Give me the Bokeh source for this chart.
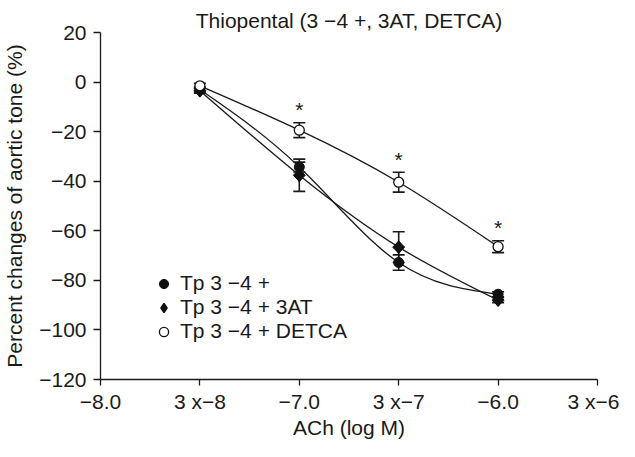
import numpy as np
from bokeh.plotting import figure
from bokeh.models import (Range1d, FixedTicker, ColumnDataSource, Whisker, TeeHead,
                          Legend, LegendItem)
from bokeh.core.properties import value
from bokeh.embed import file_html
from bokeh.resources import INLINE

# ---------------- data ----------------
x_ticks = [0, 1, 2, 3, 4, 5]
x_tick_labels = ["\u22128.0", "3 x\u22128", "\u22127.0", "3 x\u22127", "\u22126.0", "3 x\u22126"]
y_ticks = [20, 0, -20, -40, -60, -80, -100, -120]

dose_pos = [1, 2, 3, 4]
tp_mean = [-3.0, -34.3, -72.8, -85.6]
tp_err = [1.0, 2.0, 3.1, 1.0]
at_mean = [-3.5, -37.6, -66.6, -88.0]
at_err = [1.0, 6.5, 6.2, 1.0]
de_mean = [-1.5, -19.4, -40.4, -66.4]
de_err = [1.0, 3.0, 4.0, 2.4]
de_sig = [False, True, True, True]

series_names = ["Tp 3 \u22124 +", "Tp 3 \u22124 + 3AT", "Tp 3 \u22124 + DETCA"]
title_text = "Thiopental (3 \u22124 +, 3AT, DETCA)"
x_label = "ACh (log M)"
y_label = "Percent changes of aortic tone (%)"

FONT = "Liberation Sans"
FS = "21px"
INK = "#1a1a1a"


def spline_bezier(xs, ys):
    x = np.asarray(xs, float)
    y = np.asarray(ys, float)
    n = len(x)
    h = np.diff(x)
    A = np.zeros((n, n))
    b = np.zeros(n)
    A[0, 0] = 1
    A[-1, -1] = 1
    for i in range(1, n - 1):
        A[i, i - 1] = h[i - 1]
        A[i, i] = 2 * (h[i - 1] + h[i])
        A[i, i + 1] = h[i]
        b[i] = 6 * ((y[i + 1] - y[i]) / h[i] - (y[i] - y[i - 1]) / h[i - 1])
    M = np.linalg.solve(A, b)
    s = np.diff(y) / h
    d0 = s - h * (2 * M[:-1] + M[1:]) / 6
    d1 = s + h * (M[:-1] + 2 * M[1:]) / 6
    return dict(x0=x[:-1], y0=y[:-1], x1=x[1:], y1=y[1:],
                cx0=x[:-1] + h / 3, cy0=y[:-1] + d0 * h / 3,
                cx1=x[1:] - h / 3, cy1=y[1:] - d1 * h / 3)


p = figure(width=619, height=441, x_range=Range1d(0, 5), y_range=Range1d(-120, 20),
           output_backend="svg", toolbar_location=None,
           min_border_left=95, min_border_right=22, min_border_top=32, min_border_bottom=58,
           title=title_text)
p.outline_line_color = None
p.grid.visible = False
p.background_fill_color = "white"
p.border_fill_color = "white"

p.title.text_font = FONT
p.title.text_font_size = FS
p.title.text_font_style = "normal"
p.title.align = "center"
p.title.text_color = INK
p.title.standoff = 2

for ax in (p.xaxis[0], p.yaxis[0]):
    ax.axis_line_width = 1.3
    ax.axis_line_color = INK
    ax.major_tick_line_width = 1.3
    ax.major_tick_line_color = INK
    ax.major_tick_in = 0
    ax.minor_tick_line_color = None
    ax.major_label_text_font = FONT
    ax.major_label_text_font_size = FS
    ax.major_label_text_color = INK
    ax.axis_label_text_font = FONT
    ax.axis_label_text_font_size = FS
    ax.axis_label_text_font_style = "normal"
    ax.axis_label_text_color = INK

p.xaxis.ticker = FixedTicker(ticks=x_ticks)
p.xaxis.major_label_overrides = {t: l for t, l in zip(x_ticks, x_tick_labels)}
p.xaxis.axis_label = x_label
p.xaxis.major_tick_out = 6
p.xaxis.major_label_standoff = 4
p.xaxis.axis_label_standoff = 0

p.yaxis.ticker = FixedTicker(ticks=y_ticks)
p.yaxis.major_label_overrides = {t: (str(t).replace("-", "\u2212")) for t in y_ticks}
p.yaxis.axis_label = y_label
p.yaxis.major_tick_out = 7
p.yaxis.major_label_standoff = 7
p.yaxis.axis_label_standoff = 10

series = [(tp_mean, tp_err), (at_mean, at_err), (de_mean, de_err)]

# curves
for mean, err in series:
    src = ColumnDataSource(spline_bezier(dose_pos, mean))
    p.bezier(x0="x0", y0="y0", x1="x1", y1="y1", cx0="cx0", cy0="cy0", cx1="cx1", cy1="cy1",
             source=src, line_color=INK, line_width=1.3)

# error bars
for mean, err in series:
    src = ColumnDataSource(dict(x=dose_pos, upper=[m + e for m, e in zip(mean, err)],
                                lower=[m - e for m, e in zip(mean, err)]))
    w = Whisker(base="x", upper="upper", lower="lower", source=src, dimension="height",
                line_color=INK, line_width=1.6,
                upper_head=TeeHead(size=12, line_width=1.6, line_color=INK),
                lower_head=TeeHead(size=12, line_width=1.6, line_color=INK))
    p.add_layout(w)

# markers
r_tp = p.scatter(dose_pos, tp_mean, marker="circle", size=10, fill_color="#111111",
                 line_color="#111111", line_width=1)
# diamond key (used by the legend), drawn under the rotated squares
r_at_key = p.scatter(dose_pos, at_mean, marker="diamond", size=12, fill_color="#111111",
                     line_color="#111111", line_width=1.5)
r_at = p.scatter(dose_pos, at_mean, marker="square", angle=np.pi / 4, size=8.5,
                 fill_color="#111111", line_color="#111111", line_width=1)
r_de = p.scatter(dose_pos, de_mean, marker="circle", size=10, fill_color="white",
                 line_color="#111111", line_width=1.3)

# significance stars
star_src = ColumnDataSource(dict(
    x=[x for x, s in zip(dose_pos, de_sig) if s],
    y=[m + e for m, e, s in zip(de_mean, de_err, de_sig) if s],
    t=["*" for s in de_sig if s]))
p.text(x="x", y="y", text="t", source=star_src, text_font=value(FONT),
       text_font_size=FS, text_align="center", text_baseline="alphabetic",
       y_offset=-13, text_color=INK)

legend = Legend(items=[LegendItem(label=series_names[0], renderers=[r_tp]),
                       LegendItem(label=series_names[1], renderers=[r_at_key]),
                       LegendItem(label=series_names[2], renderers=[r_de])],
                location=(52, 36), padding=0, margin=0, spacing=0,
                glyph_width=23, glyph_height=23, label_height=23, label_standoff=5,
                label_text_font=FONT, label_text_font_size=FS,
                label_text_color=INK,
                border_line_color=None, background_fill_alpha=0)
p.add_layout(legend, "center")

open("out.html", "w").write(file_html(p, INLINE))
